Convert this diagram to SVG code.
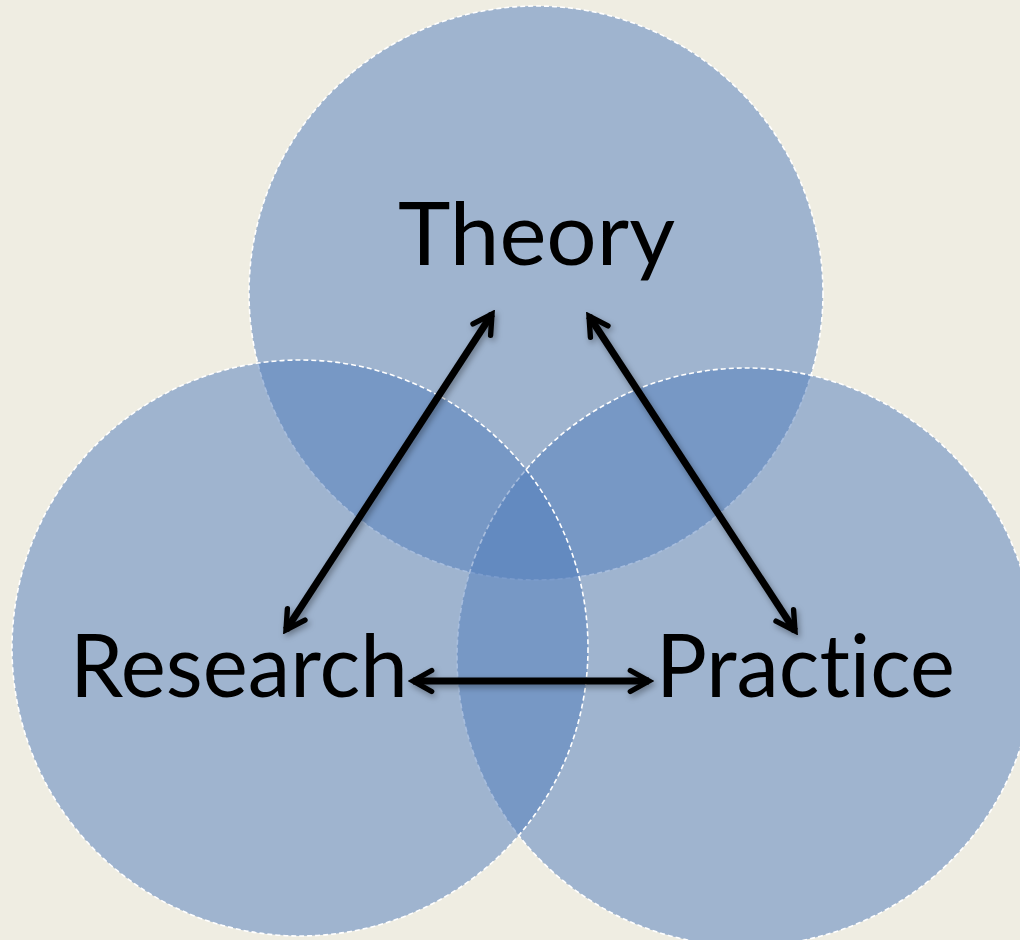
<svg xmlns="http://www.w3.org/2000/svg" width="1020" height="940" viewBox="0 0 1020 940">
<defs>
<style>
.c{fill:#4F7BBB;fill-opacity:0.5;stroke:#ffffff;stroke-width:1.6;stroke-dasharray:5 3}
.t{font-family:"Lato","Noto Sans","Liberation Sans",sans-serif;font-size:88px;fill:#000;font-variant-ligatures:none}
.a{stroke:#000;stroke-width:7;fill:none;stroke-linecap:butt}
</style>
<marker id="ah" viewBox="0 0 12 12" refX="10" refY="6" markerWidth="4" markerHeight="4" orient="auto-start-reverse" markerUnits="strokeWidth">
<path d="M2,1.5 L10,6 L2,10.5" fill="none" stroke="#000" stroke-width="2.3" stroke-linecap="round" stroke-linejoin="miter"/>
</marker>
<filter id="sh" x="-20%" y="-20%" width="140%" height="140%">
<feDropShadow dx="2" dy="3" stdDeviation="3" flood-color="#000" flood-opacity="0.35"/>
</filter>
</defs>
<rect width="1020" height="940" fill="#EFEDE2"/>
<g id="theory-circle"><circle class="c" cx="536" cy="293" r="287"/></g>
<g id="practice-circle"><circle class="c" cx="746" cy="657" r="289"/></g>
<g id="research-circle"><circle class="c" cx="300" cy="648" r="288"/></g>
<g id="connectors" filter="url(#sh)">
<line class="a" x1="286" y1="630" x2="492" y2="314" marker-start="url(#ah)" marker-end="url(#ah)"/>
<line class="a" x1="589" y1="316" x2="795" y2="631" marker-start="url(#ah)" marker-end="url(#ah)"/>
<line class="a" x1="413" y1="681" x2="649" y2="681" marker-start="url(#ah)" marker-end="url(#ah)"/>
</g>
<g id="theory"><text class="t" x="398" y="265" textLength="277" lengthAdjust="spacingAndGlyphs">Theory</text></g>
<g id="research"><text class="t" x="70" y="697" textLength="338" lengthAdjust="spacingAndGlyphs">Research</text></g>
<g id="practice"><text class="t" x="656" y="697" textLength="299" lengthAdjust="spacingAndGlyphs">Practice</text></g>
</svg>
